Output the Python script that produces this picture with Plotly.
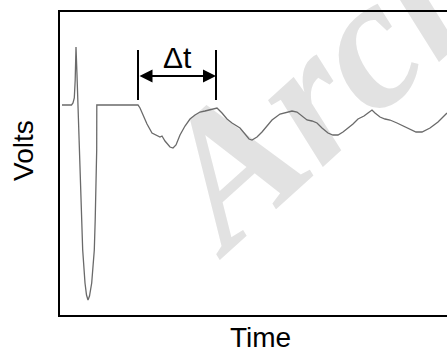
import plotly.graph_objects as go

# Recorded waveform: time (arbitrary units) and voltage relative to the resting level
time = [0.2, 1.15, 1.3, 1.43, 1.52, 1.6, 1.7, 1.8, 1.95, 2.1, 2.27, 2.5, 2.65, 2.8, 2.95,
        3.17, 3.3, 3.43, 3.52, 3.57, 3.62, 3.67, 3.68, 7.8, 8.0, 8.3, 8.7, 9.2, 9.6, 10.0,
        10.2, 10.5, 11.0, 11.3, 11.6, 12.0, 12.5, 13.0, 13.5, 14.0, 14.5, 15.0, 15.4, 15.7,
        16.2, 16.7, 17.2, 17.7, 18.0, 18.5, 18.9, 19.2, 19.7, 20.2, 20.7, 21.2, 22.0, 22.7,
        23.2, 23.7, 24.2, 24.7, 25.2, 25.7, 26.2, 26.8, 27.3, 27.8, 28.3, 28.8, 29.3, 29.8,
        30.4, 30.8, 31.2, 31.5, 32.0, 32.5, 33.0, 33.7, 34.3, 35.0, 35.6, 36.2, 36.6, 37.0,
        37.4, 37.8, 38.3, 38.7]
volts = [0, 0, 0.1, 0.35, 1.25, 2.9, 1.5, -0.25, -2.25, -4.75, -7.25, -8.9, -9.5, -9.75, -9.55,
         -8.9, -8.0, -7.25, -5.75, -4.75, -3.5, -2.25, 0, 0, -0.15, -0.5, -0.95, -1.4, -1.5, -1.6,
         -1.55, -1.8, -2.1, -2.15, -2.0, -1.5, -1.05, -0.7, -0.5, -0.35, -0.3, -0.25, -0.2, -0.15,
         -0.4, -0.7, -0.9, -1.05, -1.15, -1.45, -1.7, -1.75, -1.6, -1.35, -1.05, -0.75, -0.45, -0.35,
         -0.3, -0.35, -0.55, -0.75, -0.8, -0.9, -1.15, -1.4, -1.5, -1.5, -1.35, -1.15, -0.95, -0.7,
         -0.55, -0.4, -0.25, -0.4, -0.6, -0.7, -0.75, -0.9, -1.05, -1.2, -1.35, -1.35, -1.25, -1.15,
         -1.0, -0.85, -0.6, -0.4]

# Interval between the onset of ringing and the first recovered peak
dt_start = 7.8
dt_end = 15.6
dt_label = "Δt"

x_label = "Time"
y_label = "Volts"
watermark = "Archive"

W, H = 447, 352
ML, MR, MT, MB = 60, 0, 12, 37
PW, PH = W - ML - MR, H - MT - MB


def px_to_paper(px, py):
    return (px - ML) / PW, (H - MB - py) / PH


fig = go.Figure(
    go.Scatter(
        x=time, y=volts, mode="lines",
        line=dict(color="#6a6a6a", width=1.3),
        hoverinfo="skip",
    )
)

# faint diagonal watermark drawn underneath the trace
wx0, wy0 = px_to_paper(241, 269)
wx1, wy1 = px_to_paper(538, 1)

bar_lo, bar_hi, arrow_y = 0.25, 2.75, 1.45

fig.update_layout(
    width=W, height=H,
    margin=dict(l=ML, r=MR, t=MT, b=MB),
    paper_bgcolor="white", plot_bgcolor="white",
    showlegend=False,
    xaxis=dict(range=[0, 38.7], showline=True, mirror=True, linecolor="black", linewidth=2,
               showticklabels=False, ticks="", showgrid=False, zeroline=False),
    yaxis=dict(range=[-10.5, 4.65], showline=True, mirror=False, linecolor="black", linewidth=2,
               showticklabels=False, ticks="", showgrid=False, zeroline=False),
    shapes=[
        dict(type="line", xref="paper", yref="paper", x0=wx0, y0=wy0, x1=wx1, y1=wy1,
             layer="below", line=dict(color="rgba(0,0,0,0)", width=0),
             label=dict(text=watermark, textposition="start", padding=0,
                        font=dict(family="Liberation Serif", size=188, color="#e2e2e2",
                                  weight="bold", style="italic"))),
        dict(type="line", xref="x", yref="y", x0=dt_start, x1=dt_start, y0=bar_lo, y1=bar_hi,
             line=dict(color="black", width=2)),
        dict(type="line", xref="x", yref="y", x0=dt_end, x1=dt_end, y0=bar_lo, y1=bar_hi,
             line=dict(color="black", width=2)),
    ],
    annotations=[
        dict(x=dt_end, y=arrow_y, ax=dt_start, ay=arrow_y, xref="x", yref="y",
             axref="x", ayref="y", text="", showarrow=True, arrowside="end+start",
             arrowhead=2, arrowsize=1.3, arrowwidth=2, arrowcolor="black",
             standoff=0, startstandoff=0),
        dict(x=(dt_start + dt_end) / 2, y=2.4, xref="x", yref="y", text=dt_label,
             showarrow=False, font=dict(family="Arial, Liberation Sans", size=30, color="black")),
        dict(x=px_to_paper(260, 0)[0], y=px_to_paper(0, 337)[1], xref="paper", yref="paper",
             text=x_label, showarrow=False, xanchor="center", yanchor="middle",
             font=dict(family="Arial, Liberation Sans", size=28, color="black")),
        dict(x=px_to_paper(23, 0)[0], y=px_to_paper(0, 151)[1], xref="paper", yref="paper",
             text=y_label, showarrow=False, textangle=-90, xanchor="center", yanchor="middle",
             font=dict(family="Arial, Liberation Sans", size=28, color="black")),
    ],
)

fig.write_html("out.html")
